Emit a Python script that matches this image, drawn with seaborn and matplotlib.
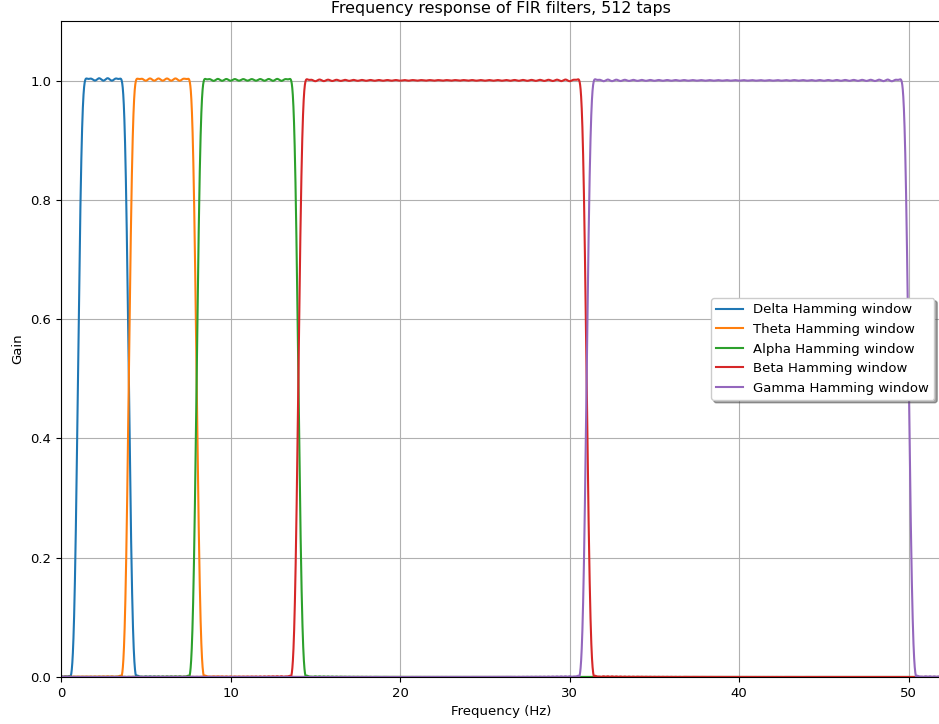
import numpy as np
import pandas as pd
import matplotlib
matplotlib.use("Agg")
import matplotlib.pyplot as plt
import seaborn as sns

plt.rcParams["font.size"] = 9.5

# filter design parameters
fs = 128.0
numtaps = 512
bands = ["Delta", "Theta", "Alpha", "Beta", "Gamma"]
low_edges = [1.0, 4.0, 8.0, 14.0, 31.0]
high_edges = [4.0, 8.0, 14.0, 31.0, 50.0]
colors = ["#1f77b4", "#ff7f0e", "#2ca02c", "#d62728", "#9467bd"]
x_max = 51.9


def bandpass_fir(low, high, numtaps, fs):
    # windowed-sinc band-pass (same as scipy.signal.firwin with hamming)
    nyq = fs / 2
    left, right = low / nyq, high / nyq
    m = np.arange(numtaps) - (numtaps - 1) / 2
    h = right * np.sinc(right * m) - left * np.sinc(left * m)
    h *= np.hamming(numtaps)
    c = np.cos(np.pi * m * 0.5 * (left + right))
    return h / np.sum(h * c)


nfft = 2 ** 15
freqs = np.fft.rfftfreq(nfft, 1 / fs)
keep = freqs <= x_max + 0.5

frames = []
for name, lo, hi in zip(bands, low_edges, high_edges):
    taps = bandpass_fir(lo, hi, numtaps, fs)
    gain = np.abs(np.fft.rfft(taps, nfft))
    frames.append(pd.DataFrame({"freq": freqs[keep], "gain": gain[keep], "band": name}))
df = pd.concat(frames, ignore_index=True)

fig = plt.figure(figsize=(9.39, 7.24), dpi=100)
ax = fig.add_axes([61 / 939, 47 / 724, (941 - 61) / 939, (677 - 21) / 724])

for name, color in zip(bands, colors):
    sns.lineplot(x="freq", y="gain", data=df[df["band"] == name], ax=ax,
                 color=color, linewidth=1.5, label=f"{name} Hamming window",
                 estimator=None, sort=False)

ax.set_xlim(0, x_max)
ax.set_ylim(0, 1.1)
ax.set_yticks([0.0, 0.2, 0.4, 0.6, 0.8, 1.0])
ax.set_xticks([0, 10, 20, 30, 40, 50])
ax.grid(True)
ax.set_xlabel("Frequency (Hz)")
ax.set_ylabel("Gain")
ax.set_title("Frequency response of FIR filters, 512 taps", fontsize=11.4)
ax.legend(loc="center right", shadow=True)

fig.savefig("out.png", dpi=100)
